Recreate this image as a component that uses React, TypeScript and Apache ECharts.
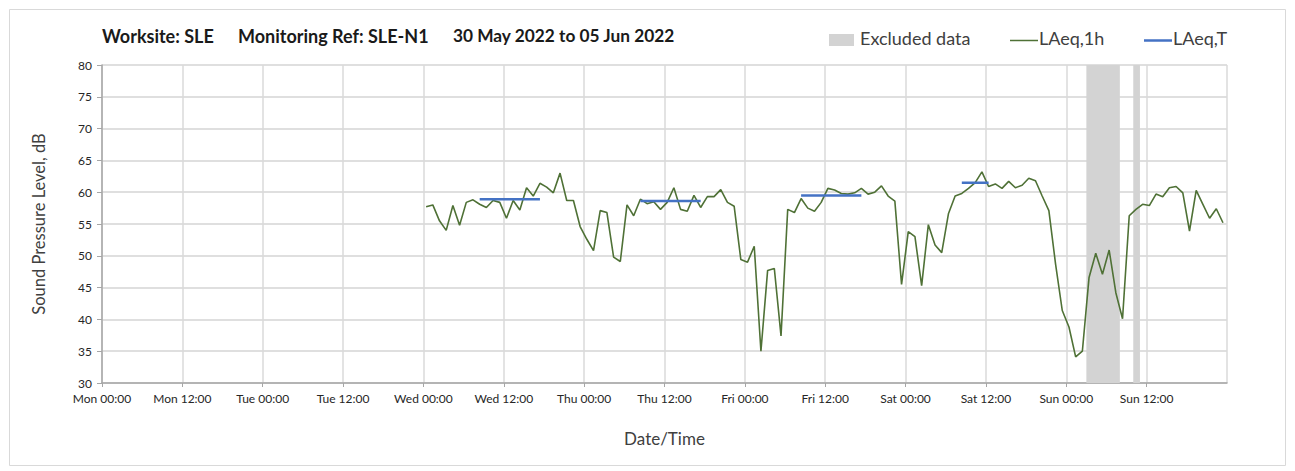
import React, { useEffect, useRef } from "react";
import * as echarts from "echarts";

// Time axis in hours from Mon 30 May 2022 00:00
const X_TICK_LABELS = [
  "Mon 00:00", "Mon 12:00", "Tue 00:00", "Tue 12:00", "Wed 00:00", "Wed 12:00",
  "Thu 00:00", "Thu 12:00", "Fri 00:00", "Fri 12:00", "Sat 00:00", "Sat 12:00",
  "Sun 00:00", "Sun 12:00",
];
const Y_TICKS = [30, 35, 40, 45, 50, 55, 60, 65, 70, 75, 80];

// Hourly LAeq,1h values; first value at hour 48.4 (Wed), one per hour
const LAEQ_1H_START_HOUR = 48.4;
const LAEQ_1H = [
  57.7, 58.0, 55.5, 54.0, 57.9, 54.8, 58.4, 58.8, 58.1, 57.6,
  58.7, 58.4, 55.9, 58.7, 57.2, 60.7, 59.4, 61.4, 60.8, 59.9,
  63.0, 58.7, 58.7, 54.6, 52.6, 50.8, 57.1, 56.8, 49.8, 49.1,
  58.0, 56.3, 58.9, 58.2, 58.5, 57.3, 58.4, 60.7, 57.3, 57.0,
  59.5, 57.6, 59.3, 59.3, 60.4, 58.4, 57.8, 49.4, 49.0, 51.5,
  35.0, 47.7, 48.0, 37.4, 57.3, 56.8, 59.0, 57.5, 57.0, 58.4,
  60.6, 60.35, 59.8, 59.7, 59.9, 60.6, 59.7, 60.0, 61.0, 59.4,
  58.6, 45.5, 53.8, 53.0, 45.3, 54.9, 51.7, 50.5, 56.6, 59.4,
  59.8, 60.6, 61.5, 63.2, 60.9, 61.3, 60.6, 61.7, 60.7, 61.1,
  62.2, 61.8, 59.4, 57.1, 48.7, 41.4, 38.8, 34.1, 35.0, 46.6,
  50.4, 47.1, 50.9, 44.2, 40.1, 56.3, 57.3, 58.1, 57.9, 59.7,
  59.3, 60.7, 60.9, 59.9, 53.9, 60.3, 58.1, 55.9, 57.4, 55.2,
];

// LAeq,T periods (hours from Mon 00:00) and values
const LAEQ_T_FROM = [56.4, 80.4, 104.4, 128.4];
const LAEQ_T_TO = [65.4, 89.4, 113.4, 132.4];
const LAEQ_T_VALUE = [58.9, 58.6, 59.5, 61.5];

// Excluded data periods (hours from Mon 00:00)
const EXCLUDED_FROM = [147, 154];
const EXCLUDED_TO = [152, 155];

const FONT = "Lato";

export default function App() {
  const ref = useRef<HTMLDivElement>(null);

  useEffect(() => {
    if (!ref.current) return;
    const chart = echarts.init(ref.current, undefined, { renderer: "svg" });

    const lineData = LAEQ_1H.map((v, i) => [LAEQ_1H_START_HOUR + i, v]);

    const tSeries = LAEQ_T_VALUE.map((v, i) => ({
      name: "LAeq,T",
      type: "line",
      data: [
        [LAEQ_T_FROM[i], v],
        [LAEQ_T_TO[i], v],
      ],
      symbol: "none",
      lineStyle: { color: "#4472C4", width: 2.5 },
      itemStyle: { color: "#4472C4" },
      z: 4,
      silent: true,
    }));

    const titleStyle = { fontFamily: FONT, fontWeight: "bold", fill: "#1a1a1a" };
    const legendText = { fontFamily: FONT, fontSize: 18, fill: "#404040" };

    const option: any = {
      animation: false,
      backgroundColor: "#ffffff",
      grid: { left: 102, right: 68, top: 65, bottom: 88, containLabel: false },
      xAxis: {
        type: "value",
        min: 0,
        max: 168,
        interval: 12,
        name: "Date/Time",
        nameLocation: "middle",
        nameGap: 47,
        nameTextStyle: { fontFamily: FONT, fontSize: 17, color: "#404040" },
        axisLine: { show: true, lineStyle: { color: "#a6a6a6", width: 1.5 } },
        axisTick: { show: true, length: 4, lineStyle: { color: "#a6a6a6" } },
        axisLabel: {
          fontFamily: FONT,
          fontSize: 12,
          color: "#262626",
          margin: 9,
          showMaxLabel: false,
          formatter: (v: number) => X_TICK_LABELS[Math.round(v / 12)] ?? "",
        },
        splitLine: { show: true, lineStyle: { color: "#dadada", width: 1.5 } },
      },
      yAxis: {
        type: "value",
        min: Y_TICKS[0],
        max: Y_TICKS[Y_TICKS.length - 1],
        interval: 5,
        name: "Sound Pressure Level, dB",
        nameLocation: "middle",
        nameGap: 55,
        nameRotate: 90,
        nameTextStyle: { fontFamily: FONT, fontSize: 16.5, color: "#404040" },
        axisLine: { show: true, lineStyle: { color: "#a6a6a6", width: 1.5 } },
        axisTick: { show: true, length: 5, lineStyle: { color: "#a6a6a6" } },
        axisLabel: { fontFamily: FONT, fontSize: 12, color: "#262626", margin: 10 },
        splitLine: { show: true, lineStyle: { color: "#d4d4d4", width: 1.5 } },
      },
      series: [
        {
          name: "Excluded data",
          type: "line",
          data: [],
          silent: true,
          z: 1,
          markArea: {
            silent: true,
            itemStyle: { color: "#d3d3d3", opacity: 1 },
            data: EXCLUDED_FROM.map((f, i) => [{ xAxis: f }, { xAxis: EXCLUDED_TO[i] }]),
          },
        },
        {
          name: "LAeq,1h",
          type: "line",
          data: lineData,
          symbol: "none",
          lineStyle: { color: "#4f7136", width: 1.6 },
          itemStyle: { color: "#4f7136" },
          z: 3,
          silent: true,
        },
        ...tSeries,
      ],
      graphic: [
        {
          type: "rect",
          shape: { x: 9.5, y: 9.5, width: 1276, height: 456 },
          style: { fill: "none", stroke: "#d9d9d9", lineWidth: 1 },
          silent: true,
          z: -10,
        },
        {
          type: "text",
          left: 102,
          top: 27,
          style: { ...titleStyle, text: "Worksite: SLE", fontSize: 18 },
        },
        {
          type: "text",
          left: 238,
          top: 27,
          style: { ...titleStyle, text: "Monitoring Ref: SLE-N1", fontSize: 18 },
        },
        {
          type: "text",
          left: 453,
          top: 27,
          style: { ...titleStyle, text: "30 May 2022 to 05 Jun 2022", fontSize: 17.3 },
        },
        // legend
        { type: "rect", shape: { x: 829, y: 34, width: 25, height: 12 }, style: { fill: "#d3d3d3" } },
        { type: "text", left: 860, top: 29, style: { ...legendText, text: "Excluded data" } },
        { type: "line", shape: { x1: 1010, y1: 40.5, x2: 1038, y2: 40.5 }, style: { stroke: "#4f7136", lineWidth: 1.5 } },
        { type: "text", left: 1039, top: 29, style: { ...legendText, text: "LAeq,1h" } },
        { type: "line", shape: { x1: 1144, y1: 40.5, x2: 1172, y2: 40.5 }, style: { stroke: "#4472C4", lineWidth: 2.5 } },
        { type: "text", left: 1173, top: 29, style: { ...legendText, text: "LAeq,T" } },
      ],
    };

    chart.setOption(option);
    return () => chart.dispose();
  }, []);

  return (
    <div
      ref={ref}
      style={{ position: "fixed", left: 0, top: 0, width: 1295, height: 471, background: "#fff" }}
    />
  );
}
